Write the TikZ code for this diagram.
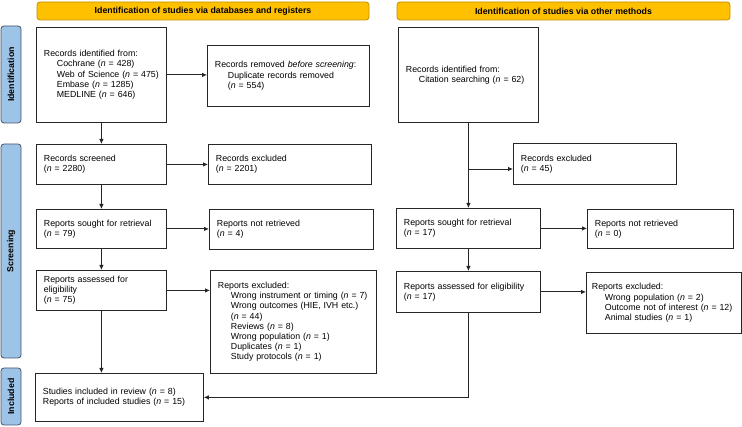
\documentclass[tikz,border=0pt]{standalone}
\usepackage{fontspec}
\setmainfont{Liberation Sans}
\usepackage{tikz}
\usetikzlibrary{arrows.meta}

\definecolor{headgold}{RGB}{255,192,0}
\definecolor{headedge}{RGB}{191,144,0}
\definecolor{sideblue}{RGB}{157,195,230}
\definecolor{sideedge}{RGB}{68,84,106}
\newcommand{\pind}{\hspace*{13pt}}

\tikzset{
    flowbox/.style={draw=black!85, line width=0.8pt, fill=white, anchor=north west,
        align=left, inner xsep=7.5pt, inner ysep=0pt,
        font=\fontsize{8.8}{10.2}\selectfont},
    headbar/.style={draw=headedge, line width=0.8pt, fill=headgold, rounded corners=3pt,
        minimum height=18pt, inner sep=0pt, font=\fontsize{8.8}{10}\selectfont\bfseries},
    sidebar/.style={draw=sideedge, line width=0.8pt, fill=sideblue, rounded corners=3pt,
        rotate=90, minimum height=20pt, inner sep=0pt, font=\fontsize{8.8}{10}\selectfont\bfseries},
    arr/.style={-{Latex[length=5pt,width=4.5pt]}, line width=0.8pt, black!85}
}

\begin{document}
\begin{tikzpicture}[x=1pt, y=-1pt]
    \useasboundingbox (0,0) rectangle (742,427);

    % Headers
    \node[headbar, minimum width=332pt] (hdL) at (203,11) {Identification of studies via databases and registers};
    \node[headbar, minimum width=333pt] (hdR) at (563.5,11) {Identification of studies via other methods};

    % Stage labels on the left
    \node[sidebar, minimum width=97pt] (sdId) at (11,74.5) {Identification};
    \node[sidebar, minimum width=214pt] (sdSc) at (11,251) {Screening};
    \node[sidebar, minimum width=57pt] (sdIn) at (11,396.5) {Included};

    % Databases and registers
    \node[flowbox, text width=115pt, minimum height=95pt] (idL) at (36,27) {Records identified from:\\
        \pind Cochrane (\textit{n} = 428)\\
        \pind Web of Science (\textit{n} = 475)\\
        \pind Embase (\textit{n} = 1285)\\
        \pind MEDLINE (\textit{n} = 646)};
    \node[flowbox, text width=147pt, minimum height=61pt] (remL) at (207,45) {Records removed \textit{before screening}:\\
        \pind Duplicate records removed\\
        \pind (\textit{n} = 554)};
    \node[flowbox, text width=115pt, minimum height=40pt] (scrL) at (36,144) {Records screened\\(\textit{n} = 2280)};
    \node[flowbox, text width=148pt, minimum height=40pt] (excL) at (208,144) {Records excluded\\(\textit{n} = 2201)};
    \node[flowbox, text width=115pt, minimum height=39pt] (sghtL) at (36,209) {Reports sought for retrieval\\(\textit{n} = 79)};
    \node[flowbox, text width=149pt, minimum height=40pt] (nretL) at (209,209) {Reports not retrieved\\(\textit{n} = 4)};
    \node[flowbox, text width=115pt, minimum height=40pt] (assL) at (36,270) {Reports assessed for\\eligibility\\(\textit{n} = 75)};
    \node[flowbox, text width=151pt, minimum height=103pt] (rexL) at (210,270) {Reports excluded:\\
        \pind Wrong instrument or timing (\textit{n} = 7)\\
        \pind Wrong outcomes (HIE, IVH etc.)\\
        \pind (\textit{n} = 44)\\
        \pind Reviews (\textit{n} = 8)\\
        \pind Wrong population (\textit{n} = 1)\\
        \pind Duplicates (\textit{n} = 1)\\
        \pind Study protocols (\textit{n} = 1)};
    \node[flowbox, text width=153pt, minimum height=48pt] (incl) at (35,373) {Studies included in review (\textit{n} = 8)\\
        Reports of included studies (\textit{n} = 15)};

    % Other methods
    \node[flowbox, text width=125pt, minimum height=95pt] (idR) at (398,27) {Records identified from:\\
        \pind Citation searching (\textit{n} = 62)};
    \node[flowbox, text width=148pt, minimum height=41pt] (excR) at (513,143) {Records excluded\\(\textit{n} = 45)};
    \node[flowbox, text width=129pt, minimum height=40pt] (sghtR) at (396,208) {Reports sought for retrieval\\(\textit{n} = 17)};
    \node[flowbox, text width=131pt, minimum height=39pt] (nretR) at (587,209) {Reports not retrieved\\(\textit{n} = 0)};
    \node[flowbox, text width=129pt, minimum height=41pt] (assR) at (396,271) {Reports assessed for eligibility\\(\textit{n} = 17)};
    \node[flowbox, inner xsep=5.5pt, text width=144pt, minimum height=61pt] (rexR) at (586,272) {Reports excluded:\\
        \pind Wrong population (\textit{n} = 2)\\
        \pind Outcome not of interest (\textit{n} = 12)\\
        \pind Animal studies (\textit{n} = 1)};
    \coordinate (brR) at (468,169);

    % Connections
    \draw[arr] (idL) -- (scrL);
    \draw[arr] (scrL) -- (sghtL);
    \draw[arr] (sghtL) -- (assL);
    \draw[arr] (assL.south) -- (assL.south |- incl.north);
    \draw[arr] (idL.east) -- (idL.east -| remL.west);
    \draw[arr] (scrL.east) -- (scrL.east -| excL.west);
    \draw[arr] (sghtL.east) -- (sghtL.east -| nretL.west);
    \draw[arr] (assL.east) -- (assL.east -| rexL.west);

    \draw[arr] (idR.south) -- (idR.south |- sghtR.north);
    \draw[arr] (brR) -- (brR -| excR.west);
    \draw[arr] (sghtR) -- (assR);
    \draw[arr] (sghtR.east) -- (sghtR.east -| nretR.west);
    \draw[arr] (assR.east) -- (assR.east -| rexR.west);
    \draw[arr] (assR.south) |- (incl.east);

\end{tikzpicture}
\end{document}
